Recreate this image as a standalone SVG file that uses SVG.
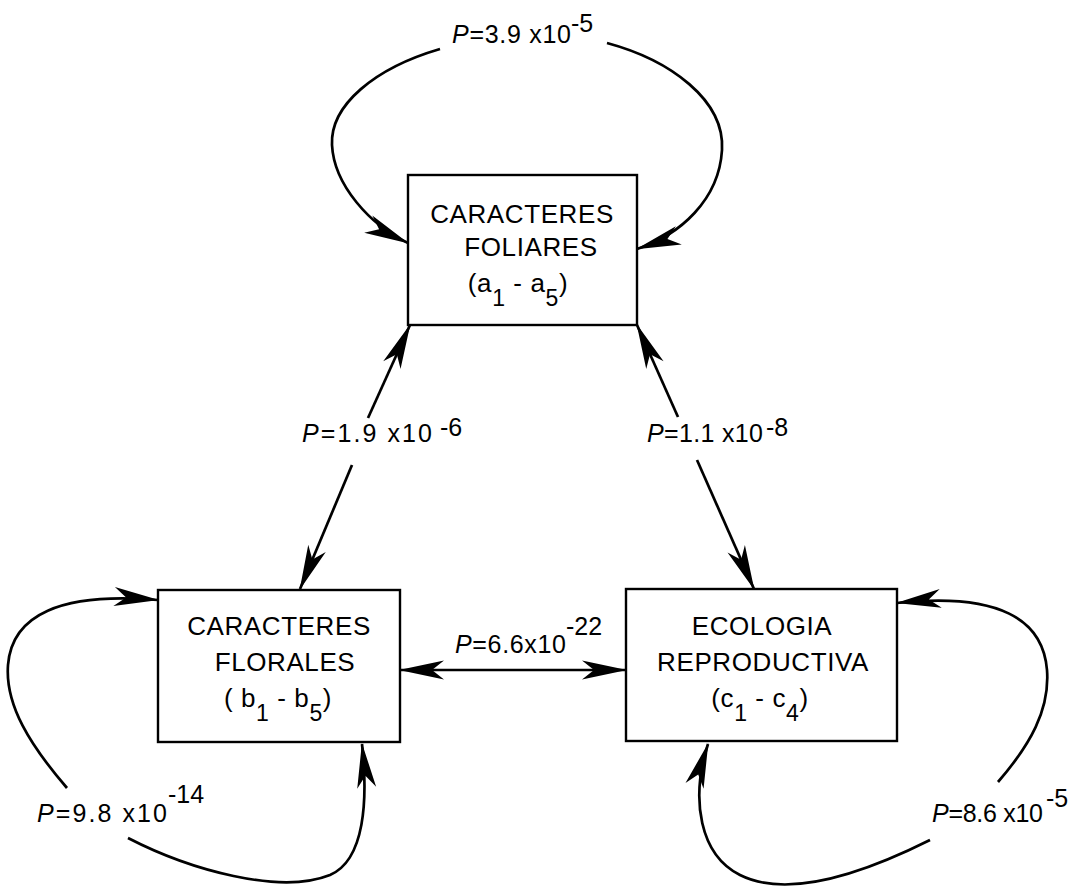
<svg xmlns="http://www.w3.org/2000/svg" width="1088" height="889" viewBox="0 0 1088 889">
<defs>
<style>
.box{fill:#fff;stroke:#000;stroke-width:2.4}
.nt{font-family:"Liberation Sans",Arial,sans-serif;font-size:26px;fill:#000;text-anchor:middle;letter-spacing:0.6px}
.sub{font-size:23px}
.lb{font-family:"Liberation Sans",Arial,sans-serif;font-size:25px;fill:#000}
.ln{fill:none;stroke:#000;stroke-width:2.7}
.arr{marker-end:url(#ah)}
</style>
<marker id="ah" markerUnits="userSpaceOnUse" viewBox="-46 -11 48 22" markerWidth="48" markerHeight="22" refX="0" refY="0" orient="auto-start-reverse">
<path d="M1,0 L-44,-9.5 L-32,0 L-44,9.5 Z" fill="#000"/>
</marker>
</defs>
<rect width="1088" height="889" fill="#fff"/>

<g id="connectors">
<path class="ln arr" d="M440,49 C375,68 330,105 332,145 C334,185 370,225 408,243"/>
<path class="ln arr" d="M607,43 C670,60 725,100 722,150 C719,200 680,235 637,249"/>
<path class="ln arr" d="M67,788 C30,745 5,705 8,665 C12,615 60,592 158,600"/>
<path class="ln arr" d="M128,838 C190,870 280,895 330,875 C365,860 368,800 362,744"/>
<path class="ln arr" d="M998,782 C1030,745 1050,710 1047,670 C1043,620 1000,592 897,603"/>
<path class="ln arr" d="M930,840 C870,870 790,900 740,875 C700,855 690,800 708,744"/>
<path class="ln arr" d="M368,418 L410,325"/>
<path class="ln arr" d="M352,465 L300,589"/>
<path class="ln arr" d="M678,417 L637,325"/>
<path class="ln arr" d="M697,460 L754,589"/>
<path class="ln" d="M400,670 L626,670" marker-start="url(#ah)" marker-end="url(#ah)"/>
</g>

<g id="labels">
<text class="lb" x="452" y="43" textLength="119" lengthAdjust="spacing"><tspan font-style="italic">P</tspan>=3.9 x10</text>
<text class="lb" x="571" y="32">-5</text>
<text class="lb" x="302" y="442" textLength="130" lengthAdjust="spacing"><tspan font-style="italic">P</tspan>=1.9 x10</text>
<text class="lb" x="440" y="436">-6</text>
<text class="lb" x="647" y="442" textLength="116" lengthAdjust="spacing"><tspan font-style="italic">P</tspan>=1.1 x10</text>
<text class="lb" x="766" y="436">-8</text>
<text class="lb" x="455" y="653" textLength="111" lengthAdjust="spacing"><tspan font-style="italic">P</tspan>=6.6x10</text>
<text class="lb" x="566" y="635">-22</text>
<text class="lb" x="37" y="822" textLength="130" lengthAdjust="spacing"><tspan font-style="italic">P</tspan>=9.8 x10</text>
<text class="lb" x="168" y="803">-14</text>
<text class="lb" x="932" y="822" textLength="111" lengthAdjust="spacing"><tspan font-style="italic">P</tspan>=8.6 x10</text>
<text class="lb" x="1046" y="807">-5</text>
</g>

<g id="node-foliares">
<rect class="box" x="408" y="175" width="229" height="150"/>
<text class="nt" x="522" y="223">CARACTERES</text>
<text class="nt" x="531" y="256">FOLIARES</text>
<text class="nt" x="518" y="292">(a<tspan class="sub" dy="14">1</tspan><tspan dy="-14"> - a</tspan><tspan class="sub" dy="14">5</tspan><tspan dy="-14">)</tspan></text>
</g>

<g id="node-florales">
<rect class="box" x="158" y="590" width="242" height="152"/>
<text class="nt" x="279" y="635">CARACTERES</text>
<text class="nt" x="285" y="671">FLORALES</text>
<text class="nt" x="278" y="707">( b<tspan class="sub" dy="14">1</tspan><tspan dy="-14"> - b</tspan><tspan class="sub" dy="14">5</tspan><tspan dy="-14">)</tspan></text>
</g>

<g id="node-ecologia">
<rect class="box" x="626" y="589" width="271" height="152"/>
<text class="nt" x="762" y="635">ECOLOGIA</text>
<text class="nt" x="763" y="671">REPRODUCTIVA</text>
<text class="nt" x="760" y="707">(c<tspan class="sub" dy="14">1</tspan><tspan dy="-14"> - c</tspan><tspan class="sub" dy="14">4</tspan><tspan dy="-14">)</tspan></text>
</g>
</svg>
